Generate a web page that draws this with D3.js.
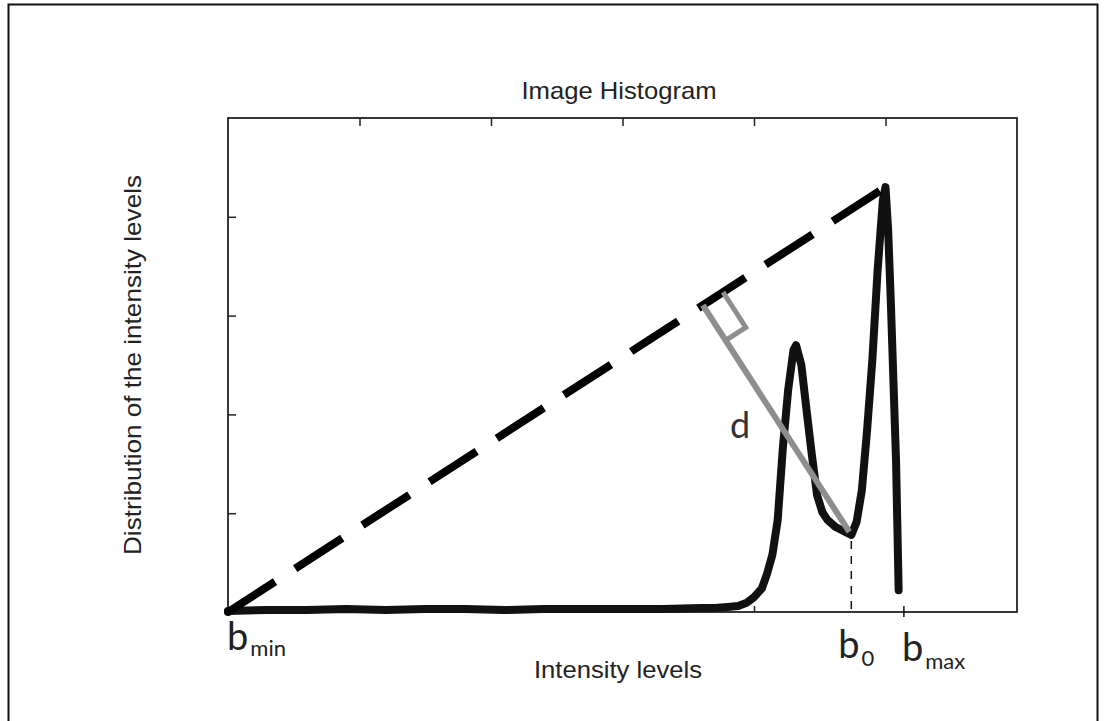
<!DOCTYPE html>
<html>
<head>
<meta charset="utf-8">
<script src="https://cdn.jsdelivr.net/npm/d3@7/dist/d3.min.js"></script>
<style>
  html, body { margin: 0; padding: 0; background: #fff; }
  svg { display: block; }
</style>
</head>
<body>
<svg id="chart" width="1105" height="721"></svg>
<script>
// Histogram of intensity levels (level -> relative count)
const levels = [0, 15, 30, 45, 60, 75, 90, 105, 120, 135, 150, 165, 180, 185, 190, 194, 197, 200,
  203, 205, 207, 209, 211, 213, 215, 216, 218, 220, 222, 224, 226, 228, 231, 234, 237, 239, 241,
  243, 245, 247, 249, 250, 251, 252, 253, 254, 255];
const counts = [0.01, 0.02, 0.02, 0.03, 0.02, 0.03, 0.03, 0.02, 0.03, 0.03, 0.03, 0.03, 0.04, 0.04,
  0.05, 0.06, 0.09, 0.15, 0.24, 0.39, 0.58, 0.93, 1.67, 2.25, 2.65, 2.70, 2.50, 2.04, 1.59, 1.18,
  1.01, 0.93, 0.86, 0.82, 0.78, 0.91, 1.23, 1.84, 2.55, 3.46, 4.17, 4.30, 3.87, 3.16, 2.35, 1.54, 0.22];

// Axis ticks (unlabelled)
const topTicks = [50, 100, 150, 200, 250];
const bottomTicks = [50, 100, 150, 200];
const leftTicks = [1, 2, 3, 4];

// Marked levels
const bMin = 0;
const b0 = 237;
const bMax = 257;

const svg = d3.select("#chart");

// Outer frame
svg.append("rect")
  .attr("x", 8.5).attr("y", 4.5).attr("width", 1089).attr("height", 730)
  .attr("fill", "none").attr("stroke", "#111").attr("stroke-width", 2);

const x = d3.scaleLinear().domain([0, 300]).range([228, 1017]);
const y = d3.scaleLinear().domain([0, 5]).range([612, 118]);

const axisColor = "#222";

// Axes with inward ticks
const gTop = svg.append("g").attr("transform", `translate(0,${y.range()[1]})`)
  .call(d3.axisTop(x).tickValues(topTicks).tickSizeInner(-8).tickSizeOuter(0).tickFormat(""));
const gBottom = svg.append("g").attr("transform", `translate(0,${y.range()[0]})`)
  .call(d3.axisBottom(x).tickValues(bottomTicks).tickSizeInner(-6).tickSizeOuter(0).tickFormat(""));
const gLeft = svg.append("g").attr("transform", `translate(${x.range()[0]},0)`)
  .call(d3.axisLeft(y).tickValues(leftTicks).tickSizeInner(-8).tickSizeOuter(0).tickFormat(""));
[gTop, gBottom, gLeft].forEach(g => {
  g.select(".domain").remove();
  g.selectAll(".tick line").attr("stroke", axisColor).attr("stroke-width", 1.5);
});

// Plot box
svg.append("rect")
  .attr("x", x(0)).attr("y", y(5))
  .attr("width", x(300) - x(0)).attr("height", y(0) - y(5))
  .attr("fill", "none").attr("stroke", axisColor).attr("stroke-width", 1.8);

// Histogram curve
const pts = levels.map((l, i) => [l, counts[i]]);
const line = d3.line().x(d => x(d[0])).y(d => y(d[1]));
svg.append("path")
  .attr("d", line(pts))
  .attr("fill", "none").attr("stroke", "#111").attr("stroke-width", 8)
  .attr("stroke-linejoin", "round").attr("stroke-linecap", "round");

// Dashed line from the lowest level to the histogram peak
const peakIdx = d3.maxIndex(counts);
const peak = [levels[peakIdx], counts[peakIdx]];
const start = [bMin, 0];
svg.append("path")
  .attr("d", line([start, peak]))
  .attr("fill", "none").attr("stroke", "#000").attr("stroke-width", 8)
  .attr("stroke-dasharray", "56,24").attr("stroke-linecap", "butt");
svg.append("circle").attr("cx", x(start[0])).attr("cy", y(start[1])).attr("r", 4).attr("fill", "#000");

// Threshold point b0 and the perpendicular distance d
const b0Idx = levels.indexOf(b0);
const valley = [x(b0), y(counts[b0Idx])];
const p0 = [x(start[0]), y(start[1])];
const p1 = [x(peak[0]), y(peak[1])];
const len = Math.hypot(p1[0] - p0[0], p1[1] - p0[1]);
const u = [(p1[0] - p0[0]) / len, (p1[1] - p0[1]) / len];
const t = (valley[0] - p0[0]) * u[0] + (valley[1] - p0[1]) * u[1];
const foot = [p0[0] + t * u[0], p0[1] + t * u[1]];
const dl = Math.hypot(valley[0] - foot[0], valley[1] - foot[1]);
const n = [(valley[0] - foot[0]) / dl, (valley[1] - foot[1]) / dl];

// Vertical dashed drop from b0 to the axis
svg.append("line")
  .attr("x1", valley[0]).attr("y1", valley[1] + 6)
  .attr("x2", valley[0]).attr("y2", y(0) + 1)
  .attr("stroke", "#111").attr("stroke-width", 1.5).attr("stroke-dasharray", "8,7");

// bMax tick
svg.append("line")
  .attr("x1", x(bMax)).attr("y1", y(0) - 6)
  .attr("x2", x(bMax)).attr("y2", y(0) + 5)
  .attr("stroke", "#111").attr("stroke-width", 1.5);

const gray = "#8e8e8e";
svg.append("line")
  .attr("x1", foot[0]).attr("y1", foot[1])
  .attr("x2", valley[0] - 2).attr("y2", valley[1] - 3)
  .attr("stroke", gray).attr("stroke-width", 6);

// Right-angle marker
const a = 24, b = 42;
const A = [foot[0] + a * u[0], foot[1] + a * u[1]];
const B = [A[0] + b * n[0], A[1] + b * n[1]];
const C = [foot[0] + b * n[0], foot[1] + b * n[1]];
svg.append("path")
  .attr("d", d3.line()([A, B, C]))
  .attr("fill", "none").attr("stroke", gray).attr("stroke-width", 5)
  .attr("stroke-linejoin", "miter");

// Text
const labelFont = "'Liberation Sans', Arial, sans-serif";
svg.append("text")
  .attr("x", 619).attr("y", 99)
  .attr("text-anchor", "middle")
  .attr("font-family", labelFont).attr("font-size", 24)
  .attr("fill", "#222")
  .attr("textLength", 195).attr("lengthAdjust", "spacingAndGlyphs")
  .text("Image Histogram");

svg.append("text")
  .attr("x", 618).attr("y", 678)
  .attr("text-anchor", "middle")
  .attr("font-family", labelFont).attr("font-size", 24)
  .attr("fill", "#222")
  .attr("textLength", 168).attr("lengthAdjust", "spacingAndGlyphs")
  .text("Intensity levels");

svg.append("text")
  .attr("transform", "translate(141,365) rotate(-90)")
  .attr("text-anchor", "middle")
  .attr("font-family", labelFont).attr("font-size", 24)
  .attr("fill", "#222")
  .attr("textLength", 380).attr("lengthAdjust", "spacingAndGlyphs")
  .text("Distribution of the intensity levels");

const markFont = "Lato, 'Open Sans', sans-serif";
function markLabel(px, py, sub, subDy) {
  const tx = svg.append("text")
    .attr("x", px).attr("y", py)
    .attr("font-family", markFont).attr("fill", "#222");
  tx.append("tspan").attr("font-size", 38).text("b");
  tx.append("tspan").attr("font-size", 22).attr("dx", 2).attr("dy", subDy).text(sub);
}
markLabel(x(bMin) - 1, 650, "min", 6);
markLabel(x(b0) - 13, 658, "0", 8);
markLabel(x(bMax) - 2, 661, "max", 8);

svg.append("text")
  .attr("x", 730).attr("y", 438)
  .attr("font-family", markFont).attr("font-size", 36)
  .attr("fill", "#333")
  .text("d");
</script>
</body>
</html>
